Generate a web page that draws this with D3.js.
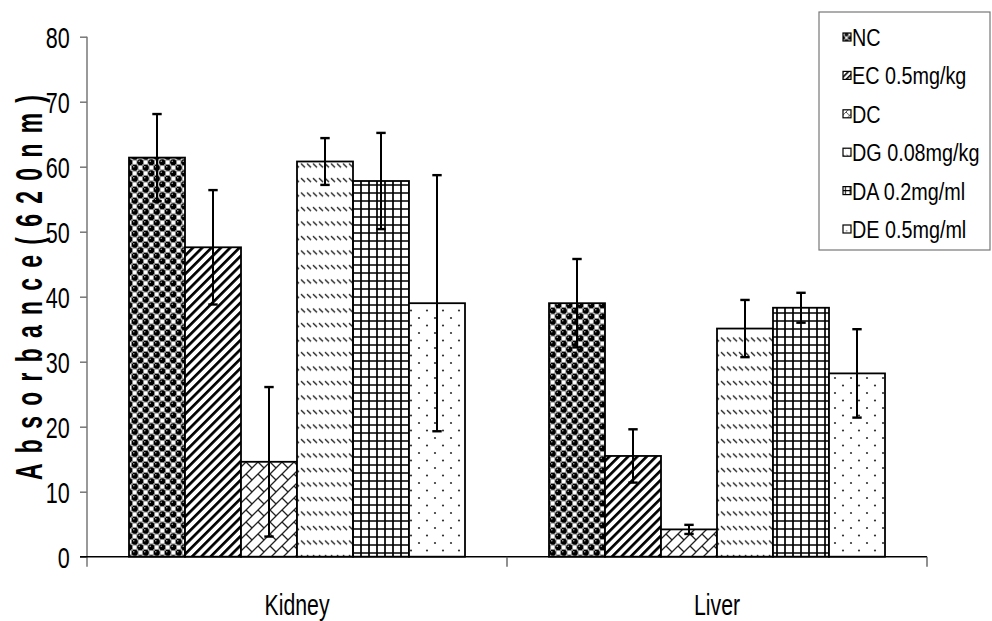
<!DOCTYPE html>
<html><head><meta charset="utf-8">
<script src="https://cdn.jsdelivr.net/npm/d3@7"></script>
<style>
html,body{margin:0;padding:0;background:#fff;}
svg{display:block;}
text{font-family:"Liberation Sans", Arial, sans-serif;fill:#000;}
</style></head>
<body>
<svg id="chart" width="992" height="621"></svg>
<script>
// ---- data ----
const categories = ["Kidney", "Liver"];
const series = ["NC", "EC 0.5mg/kg", "DC", "DG 0.08mg/kg", "DA 0.2mg/ml", "DE 0.5mg/ml"];
const kidneyMeans = [61.4, 47.6, 14.6, 60.8, 57.8, 39.0];
const kidneyErr   = [6.7, 8.8, 11.5, 3.6, 7.4, 19.7];
const liverMeans  = [39.0, 15.5, 4.2, 35.1, 38.3, 28.2];
const liverErr    = [6.8, 4.1, 0.7, 4.4, 2.3, 6.8];
const yTicks = [0, 10, 20, 30, 40, 50, 60, 70, 80];
const yLabel = "Absorbance(620nm)";

const means = [kidneyMeans, liverMeans];
const errs = [kidneyErr, liverErr];
const rows = [];
categories.forEach((c, ci) => series.forEach((s, si) => rows.push({cat: c, ser: s, si, v: means[ci][si], e: errs[ci][si]})));

const svg = d3.select("#chart");
const defs = svg.append("defs");

// ---- patterns ----
function addPatterns(suffix, k) {
  // NC spheres
  let p = defs.append("pattern").attr("id", "p0" + suffix).attr("patternUnits", "userSpaceOnUse")
    .attr("width", 11).attr("height", 11).attr("patternTransform", `scale(${k})`);
  p.append("rect").attr("width", 11).attr("height", 11).attr("fill", "#fff");
  [[8.25, 2.75], [2.75, 8.25]].forEach(([x, y]) => p.append("rect").attr("x", x - 2.2).attr("y", y - 2.2)
    .attr("width", 4.4).attr("height", 4.4).attr("fill", "#fff").attr("stroke", "#888").attr("stroke-width", 1));
  [[2.75, 2.75], [8.25, 8.25], [13.75, -2.75], [-2.75, 13.75]].forEach(([x, y]) => {
    p.append("circle").attr("cx", x).attr("cy", y).attr("r", 3.1).attr("fill", "#000");
    p.append("circle").attr("cx", x - 1).attr("cy", y - 1).attr("r", 0.8).attr("fill", "#aaa");
  });
  // EC thick diagonal stripes
  p = defs.append("pattern").attr("id", "p1" + suffix).attr("patternUnits", "userSpaceOnUse")
    .attr("width", 6.6).attr("height", 6.6).attr("patternTransform", `scale(${k}) rotate(45)`);
  p.append("rect").attr("width", 6.6).attr("height", 6.6).attr("fill", "#fff");
  p.append("rect").attr("width", 2.7).attr("height", 6.6).attr("fill", "#000");
  // DC diagonal brick
  p = defs.append("pattern").attr("id", "p2" + suffix).attr("patternUnits", "userSpaceOnUse")
    .attr("width", 12).attr("height", 12).attr("patternTransform", `scale(${k})`);
  p.append("rect").attr("width", 12).attr("height", 12).attr("fill", "#fff");
  p.append("path").attr("d", "M-1,13L13,-1M-1,1L1,-1M11,13L13,11M6,6L12,12")
    .attr("stroke", "#222").attr("stroke-width", 1.3).attr("fill", "none");
  // DG dashed downward diagonal
  p = defs.append("pattern").attr("id", "p3" + suffix).attr("patternUnits", "userSpaceOnUse")
    .attr("width", 6).attr("height", 14.5).attr("patternTransform", `scale(${k})`);
  p.append("rect").attr("width", 6).attr("height", 14.5).attr("fill", "#fff");
  p.append("path").attr("d", "M1,4L5,8").attr("stroke", "#222").attr("stroke-width", 1.4);
  // DA grid
  p = defs.append("pattern").attr("id", "p4" + suffix).attr("patternUnits", "userSpaceOnUse")
    .attr("width", 8).attr("height", 8).attr("patternTransform", `scale(${k})`);
  p.append("rect").attr("width", 8).attr("height", 8).attr("fill", "#fff");
  p.append("path").attr("d", "M0,1H8M1,0V8").attr("stroke", "#000").attr("stroke-width", 1.7);
  // DE dots
  p = defs.append("pattern").attr("id", "p5" + suffix).attr("patternUnits", "userSpaceOnUse")
    .attr("width", 16).attr("height", 15).attr("patternTransform", `scale(${k})`);
  p.append("rect").attr("width", 16).attr("height", 15).attr("fill", "#fff");
  p.append("circle").attr("cx", 3).attr("cy", 3).attr("r", 1.1).attr("fill", "#333");
  p.append("circle").attr("cx", 11).attr("cy", 10.5).attr("r", 1.1).attr("fill", "#333");
}
addPatterns("", 1);
addPatterns("L", 0.6);

// ---- scales ----
const x0 = d3.scaleBand().domain(categories).range([87, 927]).paddingInner(0).paddingOuter(0);
const x1 = d3.scaleBand().domain(series).range([42, 378]);
const y = d3.scaleLinear().domain([0, 80]).range([556.7, 36.7]);

// ---- y axis ----
const yAxis = svg.append("g").attr("transform", `translate(${x0.range()[0]},0)`)
  .call(d3.axisLeft(y).tickValues(yTicks).tickSize(7).tickSizeOuter(0));
yAxis.select(".domain").attr("stroke", "#777").attr("stroke-width", 1.5)
  .attr("d", `M0,${y(80)}V${y(0) + 10}`);
yAxis.selectAll(".tick line").attr("stroke", "#777").attr("stroke-width", 1.5);
yAxis.selectAll(".tick text")
  .attr("font-family", "Liberation Sans, Arial, sans-serif")
  .attr("font-size", 30).attr("fill", "#000")
  .attr("x", -17.3 / 0.72).attr("dy", "0.36em")
  .attr("transform", "scale(0.72,1)");

// ---- bars ----
const gBars = svg.append("g");
gBars.selectAll("rect").data(rows).join("rect")
  .attr("x", d => x0(d.cat) + x1(d.ser))
  .attr("y", d => y(d.v))
  .attr("width", x1.bandwidth())
  .attr("height", d => y(0) - y(d.v))
  .attr("fill", d => `url(#p${d.si})`)
  .attr("stroke", "#000").attr("stroke-width", 1.8);

// ---- x axis ----
const xAxisG = svg.append("g");
xAxisG.append("line").attr("x1", x0.range()[0] - 7).attr("x2", x0.range()[1])
  .attr("y1", y(0)).attr("y2", y(0)).attr("stroke", "#000").attr("stroke-width", 1.5);
const sepTicks = categories.map(c => x0(c)).concat([x0.range()[1]]).slice(1);
xAxisG.selectAll("line.sep").data(sepTicks).join("line").attr("class", "sep")
  .attr("x1", d => d).attr("x2", d => d).attr("y1", y(0)).attr("y2", y(0) + 10)
  .attr("stroke", "#555").attr("stroke-width", 1.3);
xAxisG.selectAll("g.cat").data(categories).join("g").attr("class", "cat")
  .attr("transform", d => `translate(${x0(d) + x0.bandwidth() / 2},615) scale(0.71,1)`)
  .append("text").attr("text-anchor", "middle").attr("font-size", 30).text(d => d);

// ---- error bars ----
const gErr = svg.append("g").attr("stroke", "#000");
const cx = d => x0(d.cat) + x1(d.ser) + x1.bandwidth() / 2;
gErr.selectAll("line.v").data(rows).join("line").attr("class", "v")
  .attr("x1", cx).attr("x2", cx)
  .attr("y1", d => y(d.v - d.e)).attr("y2", d => y(d.v + d.e)).attr("stroke-width", 2);
gErr.selectAll("line.ct").data(rows).join("line").attr("class", "ct")
  .attr("x1", d => cx(d) - 4.7).attr("x2", d => cx(d) + 4.7)
  .attr("y1", d => y(d.v + d.e)).attr("y2", d => y(d.v + d.e)).attr("stroke-width", 2.4);
gErr.selectAll("line.cb").data(rows).join("line").attr("class", "cb")
  .attr("x1", d => cx(d) - 4.7).attr("x2", d => cx(d) + 4.7)
  .attr("y1", d => y(d.v - d.e)).attr("y2", d => y(d.v - d.e)).attr("stroke-width", 2.4);

// ---- y label ----
const labLen = 385, labScale = 0.62;
svg.append("text")
  .attr("transform", `translate(41.5,287.5) rotate(-90) scale(${labScale},1)`)
  .attr("text-anchor", "middle").attr("font-weight", "bold").attr("font-size", 37)
  .attr("textLength", labLen / labScale).attr("lengthAdjust", "spacing")
  .text(yLabel);

// ---- legend ----
const lg = svg.append("g");
lg.append("rect").attr("x", 819).attr("y", 12).attr("width", 171).attr("height", 238)
  .attr("fill", "#fff").attr("stroke", "#777").attr("stroke-width", 1.2);
const lItems = lg.selectAll("g.item").data(series).join("g").attr("class", "item")
  .attr("transform", (d, i) => `translate(0,${46 + 38.4 * i})`);
lItems.append("rect").attr("x", 843).attr("y", -13).attr("width", 8).attr("height", 8)
  .attr("fill", (d, i) => `url(#p${i}L)`).attr("stroke", "#000").attr("stroke-width", 1.2);
lItems.append("g").attr("transform", "translate(852,0) scale(0.86,1)")
  .append("text").attr("font-size", 23).text(d => d);
</script>
</body></html>
